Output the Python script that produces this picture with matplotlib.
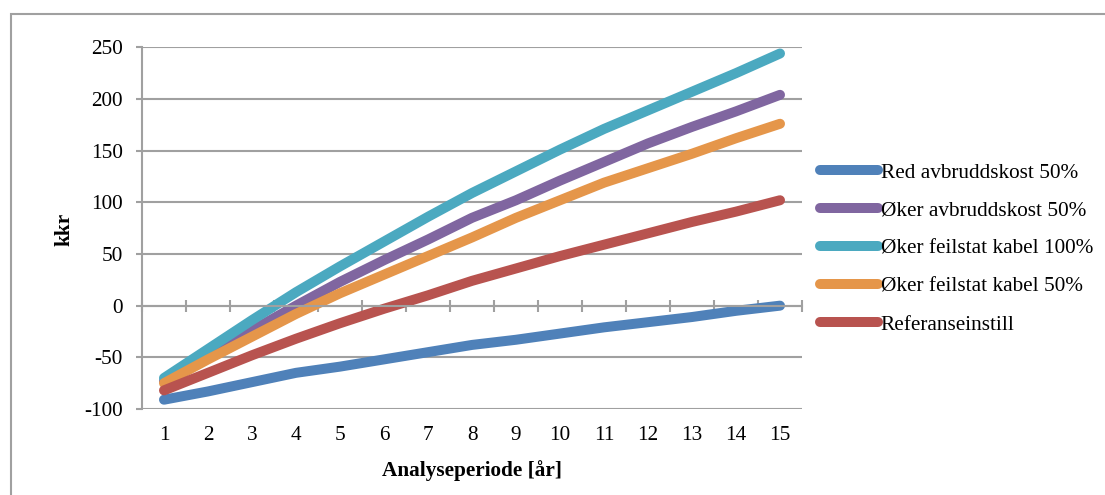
import numpy as np
import matplotlib.pyplot as plt
from matplotlib.patches import Rectangle

# år i analyseperioden
aar = np.arange(1, 16)

# kkr per scenario, lest av figuren
red_avbrudd_50 = [-91, -83, -74, -65, -59, -52, -45, -38, -33, -27, -21, -16, -11, -5, 0]
oker_avbrudd_50 = [-73, -48, -24, 0, 23, 44, 64, 85, 102, 121, 139, 157, 173, 188, 204]
oker_feil_100 = [-70, -42, -14, 13, 38, 62, 86, 109, 130, 151, 171, 189, 207, 225, 244]
oker_feil_50 = [-75, -52, -30, -8, 12, 30, 48, 66, 85, 102, 119, 133, 147, 162, 176]
referanse = [-82, -65, -48, -32, -17, -3, 10, 24, 36, 48, 59, 70, 81, 91, 102]

serier = [
    ('Red avbruddskost 50%', red_avbrudd_50, '#4F81B9'),
    ('Øker avbruddskost 50%', oker_avbrudd_50, '#8066A0'),
    ('Øker feilstat kabel 100%', oker_feil_100, '#4BA9C0'),
    ('Øker feilstat kabel 50%', oker_feil_50, '#E5964A'),
    ('Referanseinstill', referanse, '#B8534F'),
]

plt.rcParams['font.family'] = ['Liberation Serif', 'DejaVu Serif']
plt.rcParams['axes.unicode_minus'] = False
fs = 15.3
grå = '#A0A0A0'

W, H = 1105, 495
fig = plt.figure(figsize=(W / 100, H / 100), dpi=100)
ax = fig.add_axes([142 / W, 1 - 409 / H, 660 / W, (409 - 47.3) / H])

# ytre ramme rundt diagrammet
fig.patches.append(Rectangle((11 / W, -0.1), 1.2, 1.1 - 14 / H, transform=fig.transFigure,
                             fill=False, edgecolor=grå, lw=1.5))

for navn, verdier, farge in serier:
    ax.plot(aar, verdier, color=farge, lw=7.2, solid_capstyle='round', label=navn)

ax.set_xlim(0.5, 15.5)
ax.set_ylim(-100, 250)
ax.set_yticks(np.arange(-100, 251, 50))
ax.yaxis.grid(True, color=grå, lw=1.5)
ax.set_axisbelow(True)

for s in ['top', 'right']:
    ax.spines[s].set_visible(False)
ax.spines['left'].set_color(grå)
ax.spines['left'].set_linewidth(1.5)
ax.spines['bottom'].set_position(('data', 0))
ax.spines['bottom'].set_color(grå)
ax.spines['bottom'].set_linewidth(1.5)

ax.tick_params(axis='y', direction='out', length=4.5, width=1.5, color=grå,
               labelsize=fs, pad=9.5)
ax.set_xticks(aar)
ax.set_xticks(np.arange(0.5, 16, 1), minor=True)
ax.tick_params(axis='x', which='major', length=0, labelbottom=False)
ax.tick_params(axis='x', which='minor', direction='inout', length=8.6, width=1.5, color=grå)

# kategorietiketter nederst
sek = ax.secondary_xaxis(0)
sek.set_xticks(aar)
sek.tick_params(length=0, labelsize=fs, pad=12)
sek.spines['bottom'].set_visible(False)

fig.text(64.5 / W, 1 - 229 / H, 'kkr', rotation=90, fontsize=fs, fontweight='bold',
         ha='center', va='center')
fig.text(472 / W, 1 - 471 / H, 'Analyseperiode [år]', fontsize=fs, fontweight='bold',
         ha='center', va='center')

fig.legend(loc='upper left', bbox_to_anchor=(820 / W, 1 - 163 / H), frameon=False,
           fontsize=fs, handlelength=2.75, handletextpad=0.1, labelspacing=0.85,
           borderpad=0, borderaxespad=0)

fig.savefig('out.png', dpi=100)
